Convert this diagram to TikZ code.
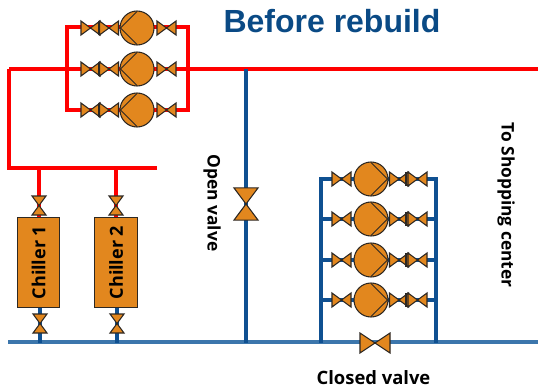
\documentclass[tikz,border=0pt]{standalone}
\usepackage{fontspec}
\setmainfont{Open Sans}
\newfontfamily\titlefont{Liberation Sans}
\definecolor{myorange}{RGB}{226,135,30}
\definecolor{myred}{RGB}{255,0,0}
\definecolor{mydarkblue}{RGB}{15,80,145}
\definecolor{mylightblue}{RGB}{60,118,172}
\definecolor{mytitle}{RGB}{10,74,133}
\definecolor{myline}{RGB}{45,40,35}
\tikzset{
    redpipe/.style={draw=myred,line width=2.3pt},
    bluepipe/.style={draw=mydarkblue,line width=2.3pt},
    body/.style={draw=myline,fill=myorange,line width=0.8pt},
    pump/.style={body,circle,minimum size=25.5pt,inner sep=0pt},
    chiller/.style={body,minimum width=32pt,minimum height=68pt,inner sep=0pt},
    rotlabel/.style={font=\bfseries\fontsize{13}{15}\selectfont,rotate=-90},
    pics/valve/.style={code={
        \draw[body] (-9.5,-7) -- (9.5,7) -- (9.5,-7) -- (-9.5,7) -- cycle;
    }},
    pics/bigvalve/.style={code={
        \draw[body] (-15,-10) -- (15,10) -- (15,-10) -- (-15,10) -- cycle;
    }}
}
\begin{document}
\begin{tikzpicture}[x=0.75pt,y=-0.75pt]
    \useasboundingbox (0,0) rectangle (538,390);
    % supply side
    \draw[redpipe] (9,69) -- (538,69);
    \draw[redpipe] (157,168) -- (9,168) -- (9,69);
    \draw[redpipe] (67,27) rectangle (188,110);
    \draw[redpipe] (39,168) -- (39,217);
    \draw[redpipe] (116,168) -- (116,217);
    % return side
    \draw[draw=mylightblue,line width=2.4pt] (8,342) -- (538,342);
    \draw[bluepipe] (40,308) -- (40,343);
    \draw[bluepipe] (117,308) -- (117,343);
    \draw[bluepipe] (246,69) -- (246,343);
    \draw[bluepipe] (321,343) -- (321,179) -- (436,179) -- (436,343);
    % chillers
    \node[chiller] (chiller1) at (38.5,262.5) {\rotatebox{90}{\bfseries\fontsize{13.5}{15}\selectfont Chiller 1}};
    \node[chiller] (chiller2) at (116,262.5) {\rotatebox{90}{\bfseries\fontsize{13.5}{15}\selectfont Chiller 2}};
    \foreach \px in {39,116} {
        \pic[rotate=90] at (\px,205.5) {valve};
    }
    \foreach \px in {40,117} {
        \pic[rotate=90] at (\px,323.5) {valve};
    }
    % top pumps
    \foreach \py in {28,69,110} {
        \pic at (90.5,\py) {valve};
        \pic at (109,\py) {valve};
        \draw[myline,line width=1pt] (99,\py-7) -- (99,\py+7);
        \pic at (166.5,\py) {valve};
        \node[pump] (pumptop\py) at (137,\py) {};
        \draw[myline,line width=0.6pt] (137,\py-16.5) -- (120.5,\py) -- (137,\py+16.5);
    }
    % right pumps
    \foreach \py in {179,219,260,300} {
        \draw[bluepipe] (321,\py) -- (436,\py);
        \pic at (341.5,\py) {valve};
        \pic at (399,\py) {valve};
        \pic at (417.5,\py) {valve};
        \draw[myline,line width=1pt] (406,\py-7) -- (406,\py+7);
        \node[pump] (pumpright\py) at (371,\py) {};
        \draw[myline,line width=0.6pt] (371,\py-16.5) -- (387.5,\py) -- (371,\py+16.5);
    }
    % big valves
    \pic[rotate=90,xscale=1.07,yscale=1.2] at (246,204) {bigvalve};
    \pic at (375,343) {bigvalve};
    % labels
    \node (title) at (332,21) {\titlefont\bfseries\fontsize{24}{28}\selectfont\textcolor{mytitle}{Before rebuild}};
    \node[rotlabel] (openlabel) at (212,203) {Open valve};
    \node[rotlabel] (shoplabel) at (506,205) {To Shopping center};
    \node[font=\bfseries\fontsize{13.8}{15}\selectfont] (closedlabel) at (373.5,378) {Closed valve};
\end{tikzpicture}
\end{document}
